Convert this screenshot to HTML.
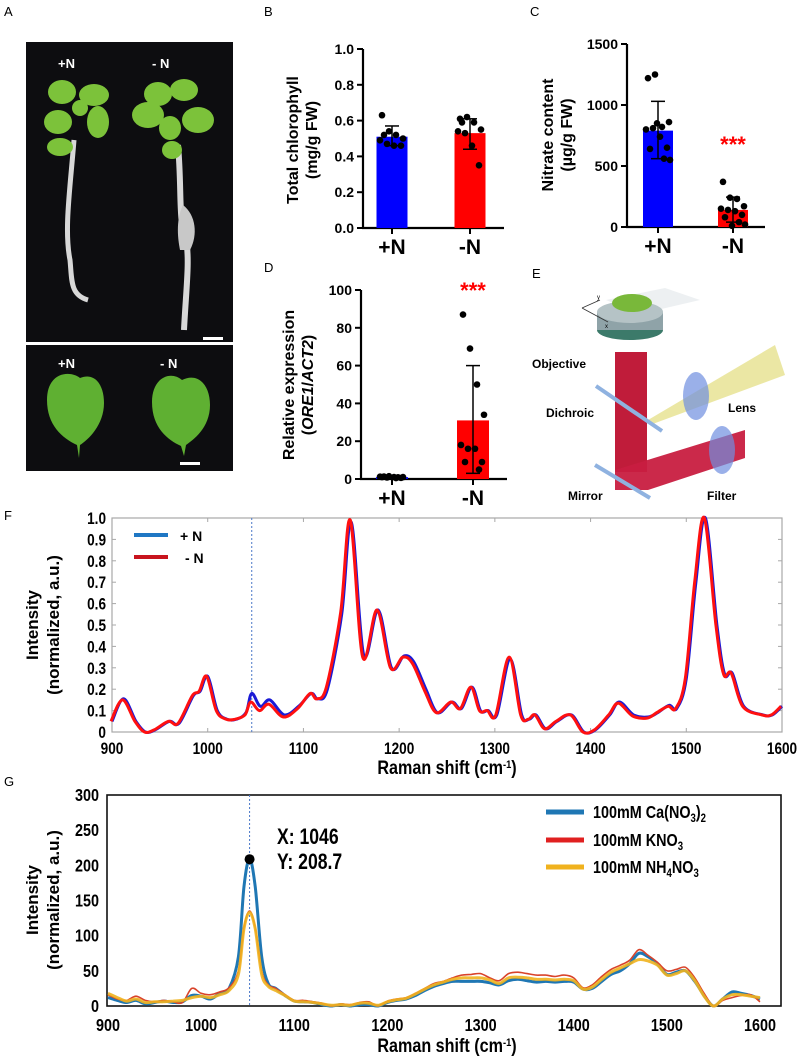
<!DOCTYPE html>
<html><head><meta charset="utf-8"><style>
body{margin:0;background:#fff;}
svg{display:block;font-family:"Liberation Sans",Arial,sans-serif;}
.b{font-weight:bold;}
</style></head><body>
<svg id="fig" width="800" height="1059" viewBox="0 0 800 1059" xmlns="http://www.w3.org/2000/svg">
<text x="4" y="16" font-size="13">A</text>
<text x="264" y="16" font-size="13">B</text>
<text x="530" y="16" font-size="13">C</text>
<text x="264" y="272" font-size="13">D</text>
<text x="532" y="278" font-size="13">E</text>
<text x="4" y="520" font-size="13">F</text>
<text x="4" y="786" font-size="13">G</text>

<g>
<rect x="26" y="42" width="207" height="300" fill="#0d0d10"/>
<path d="M74 140 C70 190,64 230,70 260 C72 280,70 295,88 300" stroke="#d8d8d8" stroke-width="5" fill="none"/>
<path d="M178 145 C182 190,178 220,186 240 C190 260,186 290,184 330" stroke="#d8d8d8" stroke-width="6" fill="none"/>
<path d="M183 205 C196 215,198 235,190 250 L180 250 C176 230,178 215,183 205Z" fill="#c8c8c8"/>
<g fill="#7cc23a">
<ellipse cx="62" cy="92" rx="14" ry="12"/><ellipse cx="94" cy="95" rx="15" ry="11"/>
<ellipse cx="58" cy="122" rx="14" ry="12"/><ellipse cx="98" cy="122" rx="11" ry="16"/>
<ellipse cx="60" cy="147" rx="13" ry="9"/><ellipse cx="80" cy="108" rx="8" ry="8"/>
<ellipse cx="148" cy="115" rx="16" ry="13"/><ellipse cx="158" cy="94" rx="14" ry="12"/>
<ellipse cx="184" cy="90" rx="14" ry="11"/><ellipse cx="198" cy="120" rx="16" ry="13"/>
<ellipse cx="170" cy="128" rx="11" ry="12"/><ellipse cx="172" cy="150" rx="10" ry="9"/>
</g>
<rect x="203" y="337" width="20" height="3" fill="#fff"/>
<text x="58" y="68" font-size="13" fill="#fff" class="b">+N</text>
<text x="152" y="68" font-size="13" fill="#fff" class="b">- N</text>
</g>
<g>
<rect x="26" y="345" width="207" height="126" fill="#0d0d10"/>
<path d="M47 400 C47 372,70 370,80 378 C95 372,104 385,104 403 C104 425,88 440,80 445 L79 458 L77 445 C62 438,47 425,47 400Z" fill="#5fb032"/>
<path d="M152 402 C152 378,170 370,182 380 C198 372,210 385,210 405 C210 428,193 440,186 445 L184 456 L181 446 C168 440,152 428,152 402Z" fill="#5fb032"/>
<rect x="180" y="462" width="20" height="3" fill="#fff"/>
<text x="58" y="368" font-size="13" fill="#fff" class="b">+N</text>
<text x="160" y="368" font-size="13" fill="#fff" class="b">- N</text>
</g>

<g id="panelB"></g>
<g id="panelC"></g>
<g id="panelD"></g>

<g>
<polygon points="606,300 665,288 700,300 640,314" fill="#e8ecef" opacity="0.8"/>
<ellipse cx="630" cy="330" rx="33" ry="10" fill="#3c7a6a"/>
<rect x="597" y="312" width="66" height="18" fill="#8fa3a8"/>
<ellipse cx="630" cy="312" rx="33" ry="11" fill="#b5c3c6"/>
<ellipse cx="632" cy="303" rx="20" ry="9" fill="#79b83a"/>
<path d="M582 308 L600 300 M582 308 L608 322" stroke="#333" stroke-width="0.8"/>
<text x="597" y="299" font-size="6">y</text><text x="605" y="328" font-size="6">x</text>
<polygon points="648,420 775,345 785,375 650,425" fill="#e9e49a" opacity="0.9"/>
<rect x="615" y="352" width="32" height="120" fill="#c01c3a"/>
<polygon points="615,470 745,430 745,458 648,490 615,490" fill="#c81e40" opacity="0.95"/>
<ellipse cx="696" cy="396" rx="13" ry="24" fill="#6f8fe0" opacity="0.7"/>
<ellipse cx="722" cy="450" rx="13" ry="24" fill="#6f8fe0" opacity="0.7"/>
<line x1="596" y1="386" x2="662" y2="431" stroke="#8fb2e0" stroke-width="4"/>
<line x1="595" y1="465" x2="650" y2="498" stroke="#8fb2e0" stroke-width="4"/>
<text x="532" y="368" font-size="12" class="b">Objective</text>
<text x="546" y="417" font-size="12" class="b">Dichroic</text>
<text x="728" y="412" font-size="12" class="b">Lens</text>
<text x="568" y="500" font-size="12" class="b">Mirror</text>
<text x="707" y="500" font-size="12" class="b">Filter</text>
</g>

<g id="panelF"></g>
<g id="panelG"></g>
</svg>
<script>
// ===== Panel B data =====
const bCategories = ["+N", "-N"];
const bMeans = [0.51, 0.53];
const bErrLow = [0.46, 0.44];
const bErrHigh = [0.57, 0.61];
const bPointsPlus = [0.63, 0.54, 0.52, 0.50, 0.49, 0.47, 0.46, 0.46, 0.52];
const bPointsMinus = [0.61, 0.62, 0.59, 0.55, 0.54, 0.53, 0.46, 0.35, 0.59];
const bTicks = [0, 0.2, 0.4, 0.6, 0.8, 1.0];
// ===== Panel C data =====
const cMeans = [790, 140];
const cErrLow = [560, 40];
const cErrHigh = [1030, 245];
const cPointsPlus = [1220, 1250, 820, 860, 800, 810, 740, 650, 640, 560, 550, 850];
const cPointsMinus = [370, 240, 230, 170, 150, 140, 130, 100, 80, 40, 20, 10];
const cTicks = [0, 500, 1000, 1500];
// ===== Panel D data =====
const dMeans = [1, 31];
const dErrLow = [0.5, 3];
const dErrHigh = [1.5, 60];
const dPointsPlus = [1, 1.5, 0.5, 1, 1.2, 0.8, 1, 0.6, 1.3, 0.9];
const dPointsMinus = [87, 69, 50, 34, 18, 16, 16, 9, 9, 5];
const dTicks = [0, 20, 40, 60, 80, 100];
// ===== Panel F data =====
const fX = [900,912,925,935,945,960,970,985,992,1000,1010,1020,1030,1040,1046,1055,1065,1080,1095,1108,1115,1125,1140,1150,1163,1178,1192,1205,1215,1228,1240,1255,1265,1276,1285,1293,1302,1316,1328,1336,1343,1353,1365,1380,1393,1405,1420,1430,1445,1460,1470,1482,1490,1500,1510,1520,1532,1540,1548,1560,1580,1590,1600];
const fPlusN = [0.05,0.155,0.05,0.0,0.01,0.05,0.04,0.17,0.19,0.26,0.1,0.06,0.06,0.09,0.18,0.12,0.15,0.08,0.12,0.18,0.155,0.2,0.55,0.98,0.36,0.57,0.3,0.355,0.33,0.2,0.09,0.14,0.11,0.21,0.1,0.1,0.08,0.34,0.08,0.06,0.08,0.015,0.05,0.08,0.0,0.01,0.08,0.14,0.08,0.07,0.09,0.125,0.11,0.25,0.7,1.0,0.5,0.27,0.275,0.12,0.08,0.08,0.12];
const fMinusN = [0.05,0.15,0.05,0.0,0.01,0.05,0.04,0.17,0.19,0.26,0.1,0.06,0.06,0.08,0.14,0.10,0.13,0.07,0.11,0.18,0.155,0.21,0.56,0.99,0.35,0.57,0.3,0.35,0.32,0.19,0.09,0.14,0.11,0.21,0.1,0.1,0.08,0.35,0.08,0.06,0.08,0.015,0.05,0.08,0.0,0.01,0.08,0.135,0.075,0.065,0.09,0.12,0.11,0.25,0.71,1.0,0.5,0.27,0.275,0.12,0.08,0.08,0.12];
const fTicksY = [0,0.1,0.2,0.3,0.4,0.5,0.6,0.7,0.8,0.9,1.0];
const fTicksX = [900,1000,1100,1200,1300,1400,1500,1600];
// ===== Panel G data =====
const gX = [900,910,920,930,940,950,960,970,980,990,1000,1010,1020,1030,1040,1046,1052,1058,1065,1072,1080,1090,1100,1110,1120,1130,1140,1150,1160,1170,1180,1190,1200,1210,1220,1230,1240,1250,1260,1270,1280,1290,1300,1310,1320,1330,1340,1350,1360,1370,1380,1390,1400,1410,1420,1430,1440,1450,1460,1470,1480,1490,1500,1510,1520,1530,1540,1550,1560,1570,1580,1590,1600];
const gCa = [12,8,5,8,3,5,7,5,6,15,14,10,18,25,70,170,209,170,70,32,25,15,7,6,5,2,0,2,0,2,2,0,5,8,10,15,22,28,32,35,35,35,35,33,30,36,38,36,34,35,34,35,34,24,25,35,45,50,60,75,70,60,45,48,50,35,15,0,10,20,18,15,10];
const gK = [16,10,8,14,8,6,8,6,5,25,18,16,20,26,50,112,135,112,50,30,25,16,8,8,6,4,0,3,2,5,6,0,7,10,12,18,25,32,35,40,44,45,46,40,36,46,48,46,44,44,42,44,40,26,30,42,52,58,65,80,72,62,50,52,55,40,18,0,8,12,15,16,6];
const gNH = [18,12,7,10,5,6,6,7,8,12,14,12,16,22,45,110,133,110,45,28,22,15,7,6,5,3,1,2,1,4,4,1,6,9,11,17,24,30,34,38,40,40,40,37,32,40,41,40,38,38,37,38,36,24,27,38,48,54,60,66,64,58,44,46,50,36,14,0,10,16,16,14,12];
const gTicksY = [0,50,100,150,200,250,300];
const gTicksX = [900,1000,1100,1200,1300,1400,1500,1600];
const gMarkerX = 1052;
const gMarkerY = 208.7;

const NS = "http://www.w3.org/2000/svg";
function mk(parent, tag, attrs, text) {
  const e = document.createElementNS(NS, tag);
  for (const k in attrs) e.setAttribute(k, attrs[k]);
  if (text !== undefined) e.textContent = text;
  parent.appendChild(e);
  return e;
}
// condensed text (narrow bold look)
function ntext(parent, x, y, size, anchor, html, sx) {
  const t = mk(parent, "text", {transform: `translate(${x},${y}) scale(${sx || 0.8},1)`, "font-size": size, "font-weight": "bold", "text-anchor": anchor});
  t.innerHTML = html;
  return t;
}

function barChart(g, cfg) {
  const yS = v => cfg.y0 - v * (cfg.y0 - cfg.yTop) / cfg.vMax;
  let ax = mk(g, "line", {x1: cfg.ax, y1: yS(cfg.vMax), x2: cfg.ax, y2: cfg.y0 + 1, stroke: "#000", "stroke-width": 2.2});
  
  
  let xa = mk(g, "line", {x1: cfg.ax - 1, y1: cfg.y0, x2: cfg.axEnd, y2: cfg.y0, stroke: "#000", "stroke-width": 2.2});
  
  
  cfg.ticks.forEach(t => {
    mk(g, "line", {x1: cfg.ax - 6, y1: yS(t), x2: cfg.ax, y2: yS(t), stroke: "#000", "stroke-width": 2});
    let tl = mk(g, "text", {x: cfg.ax - 9, y: yS(t) + 5, "font-size": 14, "font-weight": "bold", "text-anchor": "end"}, cfg.fmt(t));
    
    
  });
  const colors = ["#0000ff", "#ff0000"];
  const pts = [cfg.p1, cfg.p2];
  bCategories.forEach((c, i) => {
    const cx = cfg.centers[i], w = cfg.bw;
    let bar = mk(g, "rect", {x: cx - w / 2, y: yS(cfg.means[i]), width: w, height: cfg.y0 - yS(cfg.means[i]), fill: colors[i]});
    
    
    mk(g, "line", {x1: cx, y1: yS(cfg.eh[i]), x2: cx, y2: yS(cfg.el[i]), stroke: "#000", "stroke-width": 1.5});
    mk(g, "line", {x1: cx - 7, y1: yS(cfg.eh[i]), x2: cx + 7, y2: yS(cfg.eh[i]), stroke: "#000", "stroke-width": 1.5});
    mk(g, "line", {x1: cx - 7, y1: yS(cfg.el[i]), x2: cx + 7, y2: yS(cfg.el[i]), stroke: "#000", "stroke-width": 1.5});
    const offs = [-10, -3, 4, 11, -12, -5, 2, 9, -8, 6, 12, -1];
    pts[i].forEach((v, j) => {
      let d = mk(g, "circle", {cx: cx + offs[j % offs.length], cy: yS(v), r: 3.3, fill: "#000"});
      
      
    });
    mk(g, "line", {x1: cx, y1: cfg.y0, x2: cx, y2: cfg.y0 + 6, stroke: "#000", "stroke-width": 2});
    let xl = mk(g, "text", {x: cx, y: cfg.y0 + 26, "font-size": 21, "font-weight": "bold", "text-anchor": "middle"}, c);
    
    
  });
  const tg = mk(g, "text", {transform: `translate(${cfg.tx},${cfg.ty}) rotate(-90)`, "font-size": 16, "font-weight": "bold", "text-anchor": "middle"});
  
  
  mk(tg, "tspan", {x: 0, dy: 0}, cfg.t1);
  const t2 = mk(tg, "tspan", {x: 0, dy: 19});
  t2.innerHTML = cfg.t2;
  return yS;
}

barChart(document.getElementById("panelB"), {
  ax: 363, axEnd: 504, y0: 228, yTop: 49, vMax: 1.0, ticks: bTicks, fmt: t => t.toFixed(1),
  centers: [392, 470], bw: 31, means: bMeans, el: bErrLow, eh: bErrHigh, p1: bPointsPlus, p2: bPointsMinus,
  tx: 298, ty: 140, t1: "Total chlorophyll", t2: "(mg/g FW)"
});
barChart(document.getElementById("panelC"), {
  ax: 627, axEnd: 765, y0: 227, yTop: 44, vMax: 1500, ticks: cTicks, fmt: t => String(t),
  centers: [658, 733], bw: 30, means: cMeans, el: cErrLow, eh: cErrHigh, p1: cPointsPlus, p2: cPointsMinus,
  tx: 553, ty: 135, t1: "Nitrate content", t2: "(µg/g FW)"
});
barChart(document.getElementById("panelD"), {
  ax: 361, axEnd: 507, y0: 479, yTop: 290, vMax: 100, ticks: dTicks, fmt: t => String(t),
  centers: [392, 473], bw: 32, means: dMeans, el: dErrLow, eh: dErrHigh, p1: dPointsPlus, p2: dPointsMinus,
  tx: 294, ty: 385, t1: "Relative expression", t2: "(<tspan font-style='italic'>ORE1</tspan>/<tspan font-style='italic'>ACT2</tspan>)"
});
(function(){
  let s1 = mk(document.getElementById("panelC"), "text", {x: 733, y: 152, "font-size": 22, "font-weight": "bold", fill: "#ff0000", "text-anchor": "middle"}, "***");
  
  
  let s2 = mk(document.getElementById("panelD"), "text", {x: 473, y: 298, "font-size": 22, "font-weight": "bold", fill: "#ff0000", "text-anchor": "middle"}, "***");
  
  
})();

function smoothPath(px, py) {
  let d = `M${px[0]},${py[0]}`;
  for (let i = 0; i < px.length - 1; i++) {
    const x0 = px[Math.max(0, i - 1)], y0 = py[Math.max(0, i - 1)];
    const x1 = px[i], y1 = py[i], x2 = px[i + 1], y2 = py[i + 1];
    const x3 = px[Math.min(px.length - 1, i + 2)], y3 = py[Math.min(px.length - 1, i + 2)];
    const c1x = x1 + (x2 - x0) / 6, c1y = y1 + (y2 - y0) / 6;
    const c2x = x2 - (x3 - x1) / 6, c2y = y2 - (y3 - y1) / 6;
    d += ` C${c1x.toFixed(1)},${c1y.toFixed(1)} ${c2x.toFixed(1)},${c2y.toFixed(1)} ${x2.toFixed(1)},${y2.toFixed(1)}`;
  }
  return d;
}
const SUP = 'Raman shift (cm<tspan dy="-6" font-size="11">-1</tspan><tspan dy="6">)</tspan>';

// ===== Panel F =====
(function(){
  const g = document.getElementById("panelF");
  const L = 112, R = 782, T = 518, B = 732;
  const xS = v => L + (v - 900) * (R - L) / 700;
  const yS = v => B - v * (B - T) / 1.0;
  let fr = mk(g, "rect", {x: L, y: T, width: R - L, height: B - T, fill: "none", stroke: "#a8a8a8", "stroke-width": 1.2});
  
  
  fTicksY.forEach(t => {
    mk(g, "line", {x1: L, y1: yS(t), x2: L + 4, y2: yS(t), stroke: "#a8a8a8"});
    mk(g, "line", {x1: R - 4, y1: yS(t), x2: R, y2: yS(t), stroke: "#a8a8a8"});
    let tl = ntext(g, L - 6, yS(t) + 6, 17, "end", t === 0 ? "0" : t.toFixed(1));
    
    
  });
  fTicksX.forEach(t => {
    mk(g, "line", {x1: xS(t), y1: B, x2: xS(t), y2: B - 4, stroke: "#a8a8a8"});
    mk(g, "line", {x1: xS(t), y1: T, x2: xS(t), y2: T + 4, stroke: "#a8a8a8"});
    let tl = ntext(g, xS(t), B + 22, 17, "middle", String(t));
    
    
  });
  let vl = mk(g, "line", {x1: xS(1046), y1: T, x2: xS(1046), y2: B, stroke: "#4a78c8", "stroke-width": 1, "stroke-dasharray": "2,2"});
  
  
  let p1 = mk(g, "path", {d: smoothPath(fX.map(xS), fPlusN.map(yS)), fill: "none", stroke: "#1a1ad6", "stroke-width": 3});
  
  
  let p2 = mk(g, "path", {d: smoothPath(fX.map(v => xS(v) - 1), fMinusN.map(yS)), fill: "none", stroke: "#ff1010", "stroke-width": 3});
  
  
  let l1 = mk(g, "line", {x1: 134, y1: 535, x2: 168, y2: 535, stroke: "#1f77c4", "stroke-width": 4});
  
  
  mk(g, "text", {x: 180, y: 541, "font-size": 14, "font-weight": "bold"}, "+ N");
  let l2 = mk(g, "line", {x1: 134, y1: 557, x2: 168, y2: 557, stroke: "#c8141e", "stroke-width": 4});
  
  
  mk(g, "text", {x: 185, y: 563, "font-size": 14, "font-weight": "bold"}, "- N");
  const yt = mk(g, "text", {transform: "translate(38,625) rotate(-90)", "font-size": 17, "font-weight": "bold", "text-anchor": "middle"});
  
  
  mk(yt, "tspan", {x: 0, dy: 0}, "Intensity");
  mk(yt, "tspan", {x: 0, dy: 21}, "(normalized, a.u.)");
  const xt = ntext(g, 447, 774, 19, "middle", SUP, 0.85);
  
  
})();

// ===== Panel G =====
(function(){
  const g = document.getElementById("panelG");
  const L = 107, R = 781, T = 795, B = 1006;
  const xS = v => 108 + (v - 900) * (760 - 108) / 700;
  const yS = v => B - v * (B - T) / 300;
  let fr = mk(g, "rect", {x: L, y: T, width: R - L, height: B - T, fill: "none", stroke: "#111", "stroke-width": 1.6});
  
  
  gTicksY.forEach(t => {
    let tl = ntext(g, L - 8, yS(t) + 6, 18, "end", String(t));
    
    
  });
  gTicksX.forEach(t => {
    let tl = ntext(g, xS(t), B + 25, 18, "middle", String(t));
    
    
  });
  let vl = mk(g, "line", {x1: xS(gMarkerX), y1: T, x2: xS(gMarkerX), y2: B, stroke: "#4a78c8", "stroke-width": 1, "stroke-dasharray": "2,2"});
  
  
  let s1 = mk(g, "path", {d: smoothPath(gX.map(xS), gCa.map(yS)), fill: "none", stroke: "#1f77b4", "stroke-width": 3, "stroke-linejoin": "round"});
  
  
  let s2 = mk(g, "path", {d: smoothPath(gX.map(xS), gK.map(yS)), fill: "none", stroke: "#d9432a", "stroke-width": 1.6, "stroke-linejoin": "round"});
  
  
  let s3 = mk(g, "path", {d: smoothPath(gX.map(xS), gNH.map(yS)), fill: "none", stroke: "#f0b21e", "stroke-width": 3, "stroke-linejoin": "round", opacity: 0.9});
  
  
  let mkr = mk(g, "circle", {cx: xS(gMarkerX), cy: yS(gMarkerY), r: 5, fill: "#000"});
  
  
  let dt = ntext(g, 277, 844, 22, "start", "X: 1046");
  
  
  let dt2 = ntext(g, 277, 869, 22, "start", "Y: 208.7");
  
  
  const lg = [["#1f77b4", "100mM Ca(NO<tspan dy='4' font-size='12'>3</tspan><tspan dy='-4'>)</tspan><tspan dy='4' font-size='12'>2</tspan>", 812],
              ["#e02020", "100mM KNO<tspan dy='4' font-size='12'>3</tspan>", 840],
              ["#f0b21e", "100mM NH<tspan dy='4' font-size='12'>4</tspan><tspan dy='-4'>NO</tspan><tspan dy='4' font-size='12'>3</tspan>", 867]];
  lg.forEach(e => {
    let ll = mk(g, "line", {x1: 546, y1: e[2], x2: 584, y2: e[2], stroke: e[0], "stroke-width": 5});
    
    
    ntext(g, 593, e[2] + 6, 18, "start", e[1]);
  });
  const yt = mk(g, "text", {transform: "translate(38,900) rotate(-90)", "font-size": 17, "font-weight": "bold", "text-anchor": "middle"});
  
  
  mk(yt, "tspan", {x: 0, dy: 0}, "Intensity");
  mk(yt, "tspan", {x: 0, dy: 21}, "(normalized, a.u.)");
  const xt = ntext(g, 447, 1052, 19, "middle", SUP, 0.85);
  
  
})();
</script>
</body></html>
